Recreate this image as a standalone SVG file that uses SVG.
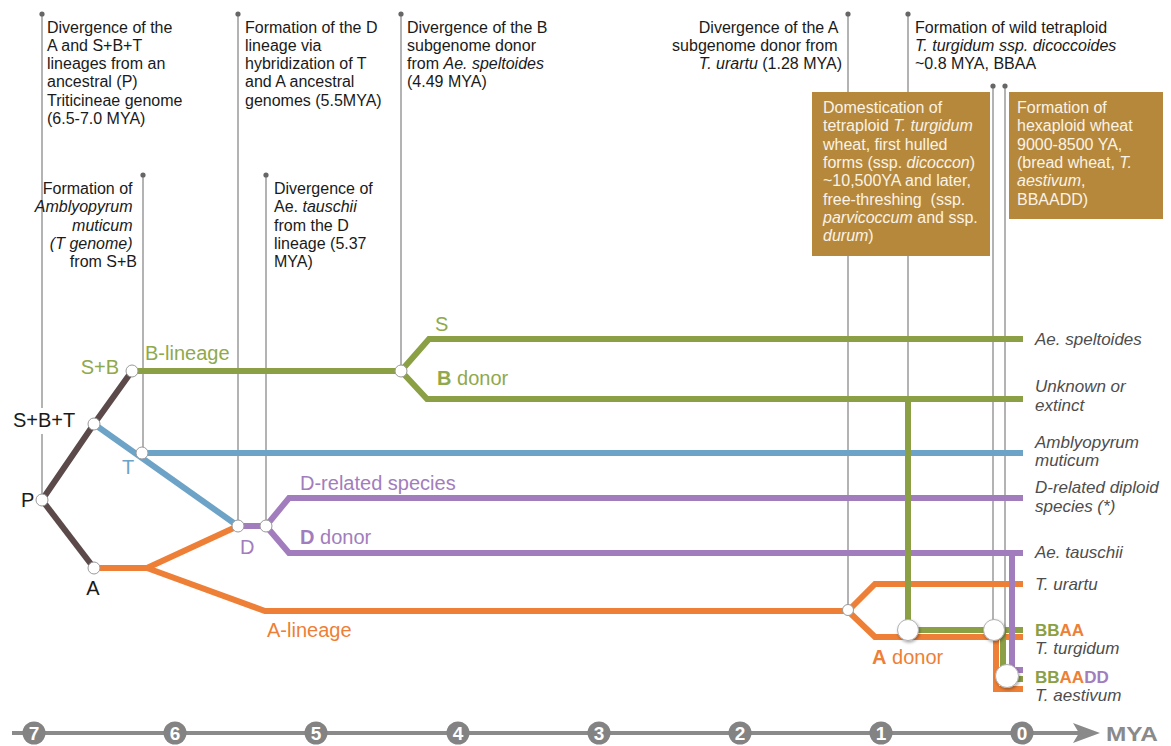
<svg xmlns="http://www.w3.org/2000/svg" width="1171" height="746" viewBox="0 0 1171 746">
<defs>
<style>
text{font-family:"Liberation Sans",Arial,sans-serif;}
.ann{font-size:16px;fill:#1a1a1a;}
.box{font-size:16px;fill:#fbf3e6;}
.rl{font-size:17px;fill:#4d4d4d;font-style:italic;}
.it{font-style:italic;}
.b{font-weight:bold;}
.ev{stroke:#8a8a8a;stroke-width:1.3;fill:none;}
.evdot{fill:#666;}
.ln{fill:none;stroke-width:6;stroke-linejoin:miter;stroke-linecap:butt;}
.br{stroke:#5c4a4a;}
.gr{stroke:#8b9f45;}
.bl{stroke:#6da3c7;}
.pu{stroke:#a27dbd;}
.or{stroke:#ee7f36;}
.nd{fill:#fff;stroke:#9a9a9a;stroke-width:1;}
.big{fill:#fff;stroke:#b0b0b0;stroke-width:1;filter:url(#sh);}
.lab{font-size:20px;}
.axc{fill:#838383;}
.axn{font-size:19px;font-weight:bold;fill:#fff;text-anchor:middle;}
</style>
<filter id="sh" x="-50%" y="-50%" width="200%" height="200%">
<feDropShadow dx="1" dy="1.5" stdDeviation="1.5" flood-color="#000" flood-opacity="0.35"/>
</filter>
</defs>
<rect width="1171" height="746" fill="#fff"/>

<g id="connectors">
  <g id="event-lines">
    <line class="ev" x1="42" y1="14" x2="42" y2="500"/>
    <line class="ev" x1="143" y1="175" x2="143" y2="453"/>
    <line class="ev" x1="238" y1="14" x2="238" y2="526"/>
    <line class="ev" x1="266" y1="175" x2="266" y2="526"/>
    <line class="ev" x1="401" y1="14" x2="401" y2="371"/>
    <line class="ev" x1="848" y1="14" x2="848" y2="610"/>
    <line class="ev" x1="908" y1="14" x2="908" y2="630"/>
    <line class="ev" x1="993" y1="86" x2="993" y2="630"/>
    <line class="ev" x1="1005" y1="86" x2="1005" y2="676"/>
    <circle class="evdot" cx="42" cy="14" r="2.6"/>
    <circle class="evdot" cx="143" cy="175" r="2.6"/>
    <circle class="evdot" cx="238" cy="14" r="2.6"/>
    <circle class="evdot" cx="266" cy="175" r="2.6"/>
    <circle class="evdot" cx="401" cy="14" r="2.6"/>
    <circle class="evdot" cx="848" cy="14" r="2.6"/>
    <circle class="evdot" cx="908" cy="14" r="2.6"/>
    <circle class="evdot" cx="993" cy="86" r="2.6"/>
    <circle class="evdot" cx="1005" cy="86" r="2.6"/>
  </g>
  <g id="lineages">
    <polyline class="ln br" points="42,500 94,424 132,371"/>
    <polyline class="ln br" points="42,500 94,568"/>
    <polyline class="ln gr" points="132,371 401,371"/>
    <polyline class="ln gr" points="401,371 429,339 1023,339"/>
    <polyline class="ln gr" points="401,371 427,399 1023,399"/>
    <polyline class="ln bl" points="94,424 238,526"/>
    <polyline class="ln bl" points="142,453 1023,453"/>
    <polyline class="ln or" points="94,568 147,568 238,526"/>
    <polyline class="ln or" points="147,568 265,611 848,611"/>
    <polyline class="ln pu" points="238,526 266,526"/>
    <polyline class="ln pu" points="266,526 289,498 1023,498"/>
    <polyline class="ln pu" points="266,526 289,553 1023,553"/>
    <polyline class="ln or" points="848,611 875,584 1023,584"/>
    <polyline class="ln or" points="848,611 875,637 1023,637"/>
    <polyline class="ln or" points="996,637 996,689 1023,689"/>
    <polyline class="ln gr" points="908,399 908,630 1023,630"/>
    <polyline class="ln gr" points="1003,630 1003,679 1023,679"/>
    <polyline class="ln pu" points="1012,553 1012,670 1023,670"/>
  </g>
</g>

<g id="box-domestication">
  <rect x="812" y="92" width="178" height="164" fill="#b5883c"/>
  <text class="box" x="823">
    <tspan x="823" y="113">Domestication of</tspan>
    <tspan x="823" y="131.3">tetraploid <tspan class="it">T. turgidum</tspan></tspan>
    <tspan x="823" y="149.6">wheat, first hulled</tspan>
    <tspan x="823" y="168">forms (ssp. <tspan class="it">dicoccon</tspan>)</tspan>
    <tspan x="823" y="186.3">~10,500YA and later,</tspan>
    <tspan x="823" y="204.6">free-threshing&#160; (ssp.</tspan>
    <tspan x="823" y="223"><tspan class="it">parvicoccum</tspan> and ssp.</tspan>
    <tspan x="823" y="241.3"><tspan class="it">durum</tspan>)</tspan>
  </text>
</g>
<g id="box-hexaploid">
  <rect x="1009" y="92" width="154" height="127" fill="#b5883c"/>
  <text class="box" x="1017">
    <tspan x="1017" y="113">Formation of</tspan>
    <tspan x="1017" y="131.3">hexaploid wheat</tspan>
    <tspan x="1017" y="149.6">9000-8500 YA,</tspan>
    <tspan x="1017" y="168">(bread wheat, <tspan class="it">T.</tspan></tspan>
    <tspan x="1017" y="186.3"><tspan class="it">aestivum</tspan>,</tspan>
    <tspan x="1017" y="204.6">BBAADD)</tspan>
  </text>
</g>

<g id="ann-P">
  <text class="ann">
    <tspan x="47" y="32.5">Divergence of the</tspan>
    <tspan x="47" y="50.8">A and S+B+T</tspan>
    <tspan x="47" y="69.1">lineages from an</tspan>
    <tspan x="47" y="87.4">ancestral (P)</tspan>
    <tspan x="47" y="105.7">Triticineae genome</tspan>
    <tspan x="47" y="124">(6.5-7.0 MYA)</tspan>
  </text>
</g>
<g id="ann-T">
  <text class="ann" text-anchor="end">
    <tspan x="137" y="194">Formation of</tspan>
    <tspan x="137" y="212.3" class="it">Amblyopyrum</tspan>
    <tspan x="137" y="230.6" class="it">muticum</tspan>
    <tspan x="137" y="249" class="it">(T genome)</tspan>
    <tspan x="137" y="267.3">from S+B</tspan>
  </text>
</g>
<g id="ann-D">
  <text class="ann">
    <tspan x="245" y="32.5">Formation of the D</tspan>
    <tspan x="245" y="50.8">lineage via</tspan>
    <tspan x="245" y="69.1">hybridization of T</tspan>
    <tspan x="245" y="87.4">and A ancestral</tspan>
    <tspan x="245" y="105.7">genomes (5.5MYA)</tspan>
  </text>
</g>
<g id="ann-tauschii">
  <text class="ann">
    <tspan x="274" y="194">Divergence of</tspan>
    <tspan x="274" y="212.3">Ae. <tspan class="it">tauschii</tspan></tspan>
    <tspan x="274" y="230.6">from the D</tspan>
    <tspan x="274" y="249">lineage (5.37</tspan>
    <tspan x="274" y="267.3">MYA)</tspan>
  </text>
</g>
<g id="ann-B">
  <text class="ann">
    <tspan x="407" y="32.5">Divergence of the B</tspan>
    <tspan x="407" y="50.8">subgenome donor</tspan>
    <tspan x="407" y="69.1">from <tspan class="it">Ae. speltoides</tspan></tspan>
    <tspan x="407" y="87.4">(4.49 MYA)</tspan>
  </text>
</g>
<g id="ann-A">
  <text class="ann" text-anchor="end">
    <tspan x="842" y="32.5">Divergence of the A</tspan>
    <tspan x="842" y="50.8">subgenome donor from</tspan>
    <tspan x="842" y="69.1"><tspan class="it">T. urartu</tspan> (1.28 MYA)</tspan>
  </text>
</g>
<g id="ann-tetraploid">
  <text class="ann">
    <tspan x="915" y="32.5">Formation of wild tetraploid</tspan>
    <tspan x="915" y="50.8" class="it">T. turgidum ssp. dicoccoides</tspan>
    <tspan x="915" y="69.1">~0.8 MYA, BBAA</tspan>
  </text>
</g>

<g id="labels">
  <rect x="11" y="408" width="70" height="26" fill="#fff"/>
  <text class="lab" x="13" y="427" fill="#1a1a1a">S+B+T</text>
  <text class="lab" x="21" y="507" fill="#1a1a1a">P</text>
  <text class="lab" x="93" y="595" fill="#1a1a1a" text-anchor="middle">A</text>
  <text class="lab" x="119" y="374" fill="#8fa94b" text-anchor="end">S+B</text>
  <text class="lab" x="145" y="360" fill="#8fa94b">B-lineage</text>
  <text class="lab" x="122" y="474" fill="#6da3c7">T</text>
  <text class="lab" x="240" y="554" fill="#a27dbd">D</text>
  <text class="lab" x="435" y="331" fill="#8fa94b">S</text>
  <text class="lab" x="437" y="385" fill="#8fa94b"><tspan class="b">B</tspan> donor</text>
  <text class="lab" x="300" y="490" fill="#a27dbd">D-related species</text>
  <text class="lab" x="300" y="544" fill="#a27dbd"><tspan class="b">D</tspan> donor</text>
  <text class="lab" x="267" y="637" fill="#ee7f36">A-lineage</text>
  <text class="lab" x="872" y="664" fill="#ee7f36"><tspan class="b">A</tspan> donor</text>
</g>

<g id="species">
  <text class="rl" x="1035" y="345">Ae. speltoides</text>
  <text class="rl"><tspan x="1035" y="392">Unknown or</tspan><tspan x="1035" y="411">extinct</tspan></text>
  <text class="rl"><tspan x="1035" y="448">Amblyopyrum</tspan><tspan x="1035" y="466">muticum</tspan></text>
  <text class="rl"><tspan x="1035" y="493">D-related diploid</tspan><tspan x="1035" y="512">species (*)</tspan></text>
  <text class="rl" x="1035" y="558">Ae. tauschii</text>
  <text class="rl" x="1035" y="590">T. urartu</text>
  <text x="1035" y="636" font-size="17" font-weight="bold"><tspan fill="#8b9f45">BB</tspan><tspan fill="#ee7f36">AA</tspan></text>
  <text class="rl" x="1035" y="654">T. turgidum</text>
  <text x="1035" y="683" font-size="17" font-weight="bold"><tspan fill="#8b9f45">BB</tspan><tspan fill="#ee7f36">AA</tspan><tspan fill="#a27dbd">DD</tspan></text>
  <text class="rl" x="1035" y="701">T. aestivum</text>
</g>

<g id="node-P"><circle class="nd" cx="42" cy="500" r="6"/></g>
<g id="node-SBT"><circle class="nd" cx="94" cy="424" r="6"/></g>
<g id="node-SB"><circle class="nd" cx="132" cy="371" r="6"/></g>
<g id="node-A"><circle class="nd" cx="94" cy="568" r="6"/></g>
<g id="node-T"><circle class="nd" cx="142" cy="453" r="6"/></g>
<g id="node-D"><circle class="nd" cx="238" cy="526" r="6"/></g>
<g id="node-Dsplit"><circle class="nd" cx="266" cy="526" r="6"/></g>
<g id="node-Bsplit"><circle class="nd" cx="401" cy="371" r="6"/></g>
<g id="node-Asplit"><circle class="nd" cx="848" cy="610" r="5.5"/></g>
<g id="node-BBAA-wild"><circle class="big" cx="908" cy="630" r="10.5"/></g>
<g id="node-BBAA-dom"><circle class="big" cx="994" cy="630" r="10.5"/></g>
<g id="node-BBAADD"><circle class="big" cx="1007" cy="676" r="11.5"/></g>

<g id="axis">
  <line x1="12" y1="733" x2="1088" y2="733" stroke="#8a8a8a" stroke-width="4"/>
  <path d="M1073,723 L1100,733 L1073,743 L1079,733 Z" fill="#8a8a8a"/>
  <circle class="axc" cx="34" cy="733" r="11.5"/><text class="axn" x="34" y="740">7</text>
  <circle class="axc" cx="175" cy="733" r="11.5"/><text class="axn" x="175" y="740">6</text>
  <circle class="axc" cx="316" cy="733" r="11.5"/><text class="axn" x="316" y="740">5</text>
  <circle class="axc" cx="458" cy="733" r="11.5"/><text class="axn" x="458" y="740">4</text>
  <circle class="axc" cx="599" cy="733" r="11.5"/><text class="axn" x="599" y="740">3</text>
  <circle class="axc" cx="740" cy="733" r="11.5"/><text class="axn" x="740" y="740">2</text>
  <circle class="axc" cx="881" cy="733" r="11.5"/><text class="axn" x="881" y="740">1</text>
  <circle class="axc" cx="1022" cy="733" r="11.5"/><text class="axn" x="1022" y="740">0</text>
  <text x="1106" y="741" font-size="21" font-weight="bold" fill="#8a8a8a" textLength="52" lengthAdjust="spacingAndGlyphs">MYA</text>
</g>
</svg>
